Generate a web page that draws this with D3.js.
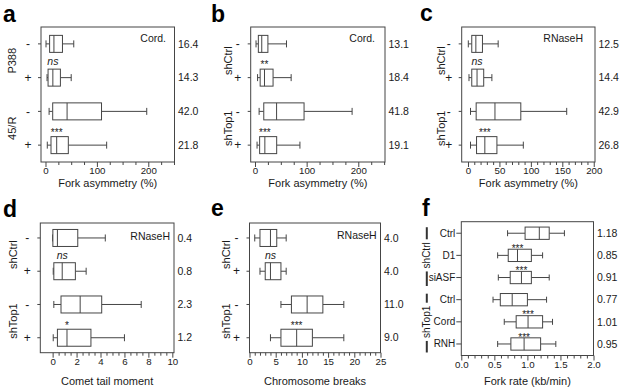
<!DOCTYPE html>
<html><head><meta charset="utf-8">
<script src="https://cdn.jsdelivr.net/npm/d3@7"></script>
<style>
body{margin:0;background:#fff;}
svg{display:block;font-family:"Liberation Sans",Arial,Helvetica,sans-serif;}
</style></head>
<body>
<svg id="chart" width="623" height="391"></svg>
<script>
// ---------- DATA ----------
// each stat row: [whisker low, Q1, median, Q3, whisker high]
const pmRows = ["-", "+", "-", "+"];
const shGroups = ["shCtrl", "shTop1"];

const aGroups = ["P388", "45/R"];
const aStats = [[1, 8, 16.4, 33, 55], [3, 5, 14.3, 29, 50], [7, 14, 42.0, 109, 197], [3.5, 10.7, 21.8, 44.4, 119]];
const aValues = ["16.4", "14.3", "42.0", "21.8"];
const aMarks = ["", "ns", "", "***"];
const aTicks = [0, 100, 200];

const bStats = [[2, 6.5, 13.1, 25, 61], [5, 10, 18.4, 35, 70], [8, 17, 41.8, 95, 188], [4, 9, 19.1, 42, 87]];
const bValues = ["13.1", "18.4", "41.8", "19.1"];
const bMarks = ["", "**", "", "***"];
const bTicks = [0, 100, 200];

const cStats = [[0.5, 6, 12.5, 23, 48], [1.6, 6, 14.4, 25, 38], [4, 13, 42.9, 84, 157], [4, 13.6, 26.8, 46, 88]];
const cValues = ["12.5", "14.4", "42.9", "26.8"];
const cMarks = ["", "ns", "", "***"];
const cTicks = [0, 50, 100, 150, 200];

const dStats = [[0, 0.02, 0.4, 2.1, 4.4], [0.05, 0.1, 0.8, 1.9, 2.8], [0.1, 0.7, 2.3, 4.1, 7.4], [0.05, 0.4, 1.2, 3.2, 6.0]];
const dValues = ["0.4", "0.8", "2.3", "1.2"];
const dMarks = ["", "ns", "", "*"];
const dTicks = [0, 2, 4, 6, 8, 10];

const eStats = [[1, 2, 4.0, 5.2, 7], [2, 3, 4.0, 6, 7], [6, 8, 11.0, 14, 18], [4, 6, 9.0, 12, 18]];
const eValues = ["4.0", "4.0", "11.0", "9.0"];
const eMarks = ["", "ns", "", "***"];
const eTicks = [0, 5, 10, 15, 20, 25];

const fRows = ["Ctrl", "D1", "siASF", "Ctrl", "Cord", "RNH"];
const fStats = [[0.70, 0.965, 1.18, 1.33, 1.56], [0.55, 0.71, 0.85, 1.06, 1.23], [0.56, 0.74, 0.91, 1.06, 1.33],
                [0.48, 0.59, 0.77, 1.0, 1.29], [0.65, 0.83, 1.01, 1.23, 1.38], [0.55, 0.75, 0.95, 1.2, 1.43]];
const fValues = ["1.18", "0.85", "0.91", "0.77", "1.01", "0.95"];
const fMarks = ["", "***", "***", "", "***", "***"];
const fTicks = [0, 0.5, 1.0, 1.5, 2.0];

// ---------- LAYOUT ----------
const INK = "#1a1a1a", LINE = "#454545";
const panels = [
  {letter:"a", lx:3, ly:22, L:41, R:174.5, T:27, B:162, domain:[-8.75, 251], ticks:aTicks, minor:25, minorMax:250, fmt:d3.format("d"),
   stats:aStats, values:aValues, rows:pmRows, groups:aGroups, marks:aMarks, title:"Fork asymmetry (%)", tag:"Cord.", tagX:166, tagY:41.5, gx:15.5, pad:0.5, boxH:17, titleY:186.5},
  {letter:"b", lx:211, ly:22, L:250.7, R:385, T:27, B:162, domain:[-8.3, 251.7], ticks:bTicks, minor:25, minorMax:250, fmt:d3.format("d"),
   stats:bStats, values:bValues, rows:pmRows, groups:shGroups, marks:bMarks, title:"Fork asymmetry (%)", tag:"Cord.", tagX:375, tagY:41.5, gx:232, pad:0.5, boxH:17, titleY:186.5},
  {letter:"c", lx:420, ly:21, L:461.7, R:595, T:27, B:162, domain:[-10, 202], ticks:cTicks, minor:10, minorMax:200, fmt:d3.format("d"),
   stats:cStats, values:cValues, rows:pmRows, groups:shGroups, marks:cMarks, title:"Fork asymmetry (%)", tag:"RNaseH", tagX:583, tagY:41.5, gx:445, pad:0.5, boxH:17, titleY:186.5},
  {letter:"d", lx:3, ly:216.5, L:40.3, R:174, T:223, B:352.7, domain:[-1.03, 10.14], ticks:dTicks, minor:0.5, minorMax:10, fmt:d3.format("d"),
   stats:dStats, values:dValues, rows:pmRows, groups:shGroups, marks:dMarks, title:"Comet tail moment", tag:"RNaseH", tagX:170, tagY:240, gx:17, pad:0.45, boxH:17, titleY:385},
  {letter:"e", lx:211, ly:215.7, L:249.5, R:380.5, T:223, B:352.7, domain:[0, 25], ticks:eTicks, minor:1, minorMax:25, fmt:d3.format("d"),
   stats:eStats, values:eValues, rows:pmRows, groups:shGroups, marks:eMarks, title:"Chromosome breaks", tag:"RNaseH", tagX:376.7, tagY:238.5, gx:230, pad:0.45, boxH:17, titleY:385},
  {letter:"f", lx:422, ly:215.7, L:461.3, R:593.5, T:221.7, B:355.5, domain:[0, 2], ticks:fTicks, minor:0.1, minorMax:2, fmt:d3.format(".1f"),
   stats:fStats, values:fValues, rows:fRows, groups:shGroups, marks:fMarks, title:"Fork rate (kb/min)", tag:null, gx:426.5, pad:0.52, boxH:12.3, titleY:385, brackets:true}
];

const svg = d3.select("#chart");

panels.forEach(p => {
  const g = svg.append("g");
  const x = d3.scaleLinear().domain(p.domain).range([p.L, p.R]);
  const idx = p.stats.map((_, i) => i);
  const y = d3.scalePoint().domain(idx).range([p.T, p.B]).padding(p.pad);

  // panel letter
  g.append("text").attr("x", p.lx).attr("y", p.ly).text(p.letter)
    .attr("font-size", 23).attr("font-weight", "bold").attr("fill", "#000");

  // x axis: minor + major ticks
  const minorVals = d3.range(0, p.minorMax + p.minor / 2, p.minor).filter(v => !p.ticks.some(t => Math.abs(t - v) < 1e-9));
  const axMinor = g.append("g").attr("transform", `translate(0,${p.B})`)
    .call(d3.axisBottom(x).tickValues(minorVals).tickSize(3).tickFormat(""));
  axMinor.select(".domain").remove();
  axMinor.selectAll("line").attr("stroke", LINE);
  const axMajor = g.append("g").attr("transform", `translate(0,${p.B})`)
    .call(d3.axisBottom(x).tickValues(p.ticks).tickSize(5).tickPadding(0.5).tickFormat(p.fmt));
  axMajor.select(".domain").remove();
  axMajor.selectAll("line").attr("stroke", LINE);
  axMajor.selectAll("text").attr("font-size", 9.7).attr("fill", INK)
    .attr("font-family", '"Liberation Sans",Arial,sans-serif');

  // frame
  g.append("rect").attr("x", p.L).attr("y", p.T).attr("width", p.R - p.L).attr("height", p.B - p.T)
    .attr("fill", "none").attr("stroke", LINE).attr("stroke-width", 1);

  // y row ticks + labels
  idx.forEach(i => {
    g.append("line").attr("x1", p.L - (p.brackets ? 5 : 3)).attr("x2", p.L).attr("y1", y(i)).attr("y2", y(i))
      .attr("stroke", LINE);
    if (p.brackets) {
      g.append("text").attr("x", p.L - 6).attr("y", y(i)).attr("dy", "0.35em").attr("text-anchor", "end")
        .attr("font-size", 10).attr("fill", INK).text(p.rows[i]);
    } else {
      g.append("text").attr("x", p.L - 13).attr("y", y(i)).attr("dy", "0.35em").attr("text-anchor", "middle")
        .attr("font-size", 12).attr("fill", INK).text(p.rows[i]);
    }
  });

  // group labels
  const per = p.rows.length / p.groups.length;
  p.groups.forEach((name, gi) => {
    const cy = (y(gi * per) + y(gi * per + per - 1)) / 2;
    if (p.brackets) {
      const t = g.append("text").attr("transform", `translate(${p.gx},${cy}) rotate(-90)`)
        .attr("text-anchor", "middle").attr("dy", "0.35em").attr("font-size", 10).attr("fill", INK).text(name);
      const half = t.node().getComputedTextLength() / 2 + 3;
      const top = y(gi * per) - 6, bot = y(gi * per + per - 1) + 8.5;
      g.append("line").attr("x1", p.gx + 0.3).attr("x2", p.gx + 0.3).attr("y1", top).attr("y2", cy - half)
        .attr("stroke", "#333").attr("stroke-width", 2);
      g.append("line").attr("x1", p.gx + 0.3).attr("x2", p.gx + 0.3).attr("y1", cy + half).attr("y2", bot)
        .attr("stroke", "#333").attr("stroke-width", 2);
    } else {
      g.append("text").attr("transform", `translate(${p.gx},${cy}) rotate(-90)`)
        .attr("text-anchor", "middle").attr("font-size", 11).attr("fill", INK).text(name);
    }
  });

  // boxes
  const capH = p.brackets ? 6 : 7;
  p.stats.forEach((s, i) => {
    const cy = y(i), h = p.boxH;
    const [lo, q1, md, q3, hi] = s;
    const bg = g.append("g").attr("stroke", LINE).attr("stroke-width", 1).attr("fill", "none");
    bg.append("line").attr("x1", x(lo)).attr("x2", x(q1)).attr("y1", cy).attr("y2", cy);
    bg.append("line").attr("x1", x(q3)).attr("x2", x(hi)).attr("y1", cy).attr("y2", cy);
    bg.append("line").attr("x1", x(lo)).attr("x2", x(lo)).attr("y1", cy - capH / 2).attr("y2", cy + capH / 2);
    bg.append("line").attr("x1", x(hi)).attr("x2", x(hi)).attr("y1", cy - capH / 2).attr("y2", cy + capH / 2);
    bg.append("rect").attr("x", x(q1)).attr("y", cy - h / 2).attr("width", x(q3) - x(q1)).attr("height", h)
      .attr("fill", "#fff");
    bg.append("line").attr("x1", x(md)).attr("x2", x(md)).attr("y1", cy - h / 2).attr("y2", cy + h / 2);

    // significance marks
    const m = p.marks[i];
    if (m) {
      const boxTop = cy - h / 2;
      if (m === "ns") {
        g.append("text").attr("x", x(md)).attr("y", boxTop - 4).attr("text-anchor", "middle")
          .attr("font-size", 10.5).attr("font-style", "italic").attr("fill", INK).text(m);
      } else {
        const gap = p.brackets ? 1.5 : 5;
        g.append("text").attr("x", x(md)).attr("y", boxTop - gap + 4.3).attr("text-anchor", "middle")
          .attr("font-size", 10).attr("fill", INK).text(m);
      }
    }

    // value on the right
    g.append("text").attr("x", p.R + 3.5).attr("y", cy).attr("dy", "0.35em")
      .attr("font-size", 10.5).attr("fill", INK).text(p.values[i]);
  });

  // tag inside
  if (p.tag) {
    g.append("text").attr("x", p.tagX).attr("y", p.tagY).attr("text-anchor", "end")
      .attr("font-size", 10.5).attr("fill", INK).text(p.tag);
  }

  // axis title
  g.append("text").attr("x", (p.L + p.R) / 2).attr("y", p.titleY).attr("text-anchor", "middle")
    .attr("font-size", 11).attr("fill", INK).text(p.title);
});
</script>
</body></html>
